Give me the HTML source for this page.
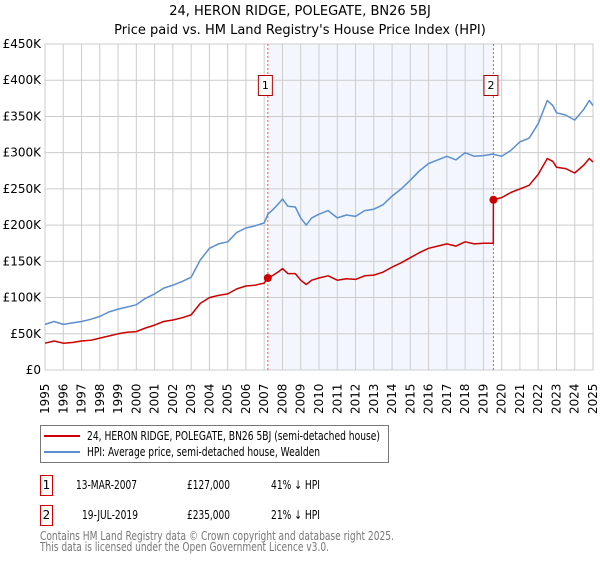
<!DOCTYPE html>
<html><head><meta charset="utf-8"><style>
body{margin:0;background:#fff;font-family:"DejaVu Sans","Liberation Sans",sans-serif;}
svg text{font-family:"DejaVu Sans","Liberation Sans",sans-serif;}
</style></head><body>
<svg id="c" width="600" height="560" xmlns="http://www.w3.org/2000/svg">
<text x="300" y="15" text-anchor="middle" font-size="13">24, HERON RIDGE, POLEGATE, BN26 5BJ</text>
<text x="300" y="34" text-anchor="middle" font-size="13">Price paid vs. HM Land Registry's House Price Index (HPI)</text>
<g id="plot"></g>
<g>
<rect x="40.5" y="425.5" width="348" height="37" fill="#fff" stroke="#777"/>
<line x1="44" y1="436" x2="80" y2="436" stroke="#cc0000" stroke-width="2"/>
<text x="87" y="440" font-size="12" textLength="293" lengthAdjust="spacingAndGlyphs">24, HERON RIDGE, POLEGATE, BN26 5BJ (semi-detached house)</text>
<line x1="44" y1="452" x2="80" y2="452" stroke="#5b8fd0" stroke-width="2"/>
<text x="87" y="456" font-size="12" textLength="233" lengthAdjust="spacingAndGlyphs">HPI: Average price, semi-detached house, Wealden</text>
</g>
<g font-size="12">
<rect x="40.5" y="475.5" width="12" height="20" fill="#fff" stroke="#cc0000"/>
<text x="46.5" y="489" text-anchor="middle">1</text>
<text x="76" y="489" textLength="61" lengthAdjust="spacingAndGlyphs">13-MAR-2007</text>
<text x="187" y="489" textLength="43" lengthAdjust="spacingAndGlyphs">£127,000</text>
<text x="271" y="489" textLength="49" lengthAdjust="spacingAndGlyphs">41% ↓ HPI</text>
<rect x="40.5" y="505.5" width="12" height="20" fill="#fff" stroke="#cc0000"/>
<text x="46.5" y="519" text-anchor="middle">2</text>
<text x="82" y="519" textLength="56" lengthAdjust="spacingAndGlyphs">19-JUL-2019</text>
<text x="187" y="519" textLength="43" lengthAdjust="spacingAndGlyphs">£235,000</text>
<text x="271" y="519" textLength="49" lengthAdjust="spacingAndGlyphs">21% ↓ HPI</text>
</g>
<text x="40" y="540" font-size="12" fill="#777" textLength="354" lengthAdjust="spacingAndGlyphs">Contains HM Land Registry data © Crown copyright and database right 2025.</text>
<text x="40" y="551" font-size="12" fill="#777" textLength="289" lengthAdjust="spacingAndGlyphs">This data is licensed under the Open Government Licence v3.0.</text>
</svg>
<script>
const hpiT=[1995,1995.5,1996,1996.5,1997,1997.5,1998,1998.5,1999,1999.5,2000,2000.5,2001,2001.5,2002,2002.5,2003,2003.5,2004,2004.5,2005,2005.5,2006,2006.5,2007,2007.2,2007.5,2007.8,2008,2008.3,2008.7,2009,2009.3,2009.6,2010,2010.5,2011,2011.5,2012,2012.5,2013,2013.5,2014,2014.5,2015,2015.5,2016,2016.5,2017,2017.5,2018,2018.5,2019,2019.5,2020,2020.5,2021,2021.5,2022,2022.5,2022.8,2023,2023.5,2024,2024.5,2024.8,2025];
const hpiV=[63,67,63,65,67,70,74,80,84,87,90,99,105,113,117,122,128,152,168,174,177,190,196,199,203,215,222,230,236,226,225,210,200,210,215,220,210,214,212,220,222,228,240,250,262,275,285,290,295,290,300,295,296,298,295,303,315,320,340,372,365,355,352,345,360,372,365];
const priceT=[1995,1995.5,1996,1996.5,1997,1997.5,1998,1998.5,1999,1999.5,2000,2000.5,2001,2001.5,2002,2002.5,2003,2003.5,2004,2004.5,2005,2005.5,2006,2006.5,2007,2007.2,2007.5,2007.8,2008,2008.3,2008.7,2009,2009.3,2009.6,2010,2010.5,2011,2011.5,2012,2012.5,2013,2013.5,2014,2014.5,2015,2015.5,2016,2016.5,2017,2017.5,2018,2018.5,2019,2019.54,2019.55,2020,2020.5,2021,2021.5,2022,2022.5,2022.8,2023,2023.5,2024,2024.5,2024.8,2025];
const priceV=[37,40,37,38,40,41,44,47,50,52,53,58,62,67,69,72,76,92,100,103,105,112,116,117,120,127,131,136,140,133,133,124,118,124,127,130,124,126,125,130,131,135,142,148,155,162,168,171,174,171,177,174,175,175,235,238,245,250,255,270,292,288,280,278,272,283,292,287];
const saleT=[2007.2,2019.55];
const saleV=[127,235];
const saleLabels=["1","2"];
const yTicks=[0,50,100,150,200,250,300,350,400,450];
const yTickLabels=["£0","£50K","£100K","£150K","£200K","£250K","£300K","£350K","£400K","£450K"];
const xYears=[1995,1996,1997,1998,1999,2000,2001,2002,2003,2004,2005,2006,2007,2008,2009,2010,2011,2012,2013,2014,2015,2016,2017,2018,2019,2020,2021,2022,2023,2024,2025];

const L=45,R=593,T=44,B=370;
const xs=t=>L+(t-1995)/30*(R-L);
const ys=v=>B-v/450*(B-T);
const NS="http://www.w3.org/2000/svg";
const g=document.getElementById('plot');
function mk(tag,attrs,parent){const e=document.createElementNS(NS,tag);for(const k in attrs)e.setAttribute(k,attrs[k]);(parent||g).appendChild(e);return e;}

const shade=mk('rect',{x:xs(saleT[0]),y:T,width:xs(saleT[1])-xs(saleT[0]),height:B-T,fill:'#eef3fc',opacity:0.7});



xYears.forEach(y=>{
  const l=mk('line',{x1:xs(y),x2:xs(y),y1:T,y2:B,stroke:'#cccccc','stroke-width':1});
  
  
  const s=String(y);
  const px=(xs(y)+4).toFixed(1);
  const xsList=[],ysList=[];
  for(let k=0;k<s.length;k++){xsList.push(px);ysList.push((B+44-k*7.6).toFixed(1));}
  const tx=mk('text',{x:xsList.join(' '),y:ysList.join(' '),rotate:'-90','font-size':'12'});
  tx.textContent=s;
  
  
});
yTicks.forEach((v,i)=>{
  const l=mk('line',{x1:L,x2:R,y1:ys(v),y2:ys(v),stroke:'#cccccc','stroke-width':1});
  
  
  const tx=mk('text',{x:41,y:ys(v)+4,'text-anchor':'end','font-size':'12'});
  tx.textContent=yTickLabels[i];
  
  
});
const frame=mk('rect',{x:L,y:T,width:R-L,height:B-T,fill:'none',stroke:'#cccccc'});



saleT.forEach((t,i)=>{
  const l=mk('line',{x1:xs(t),x2:xs(t),y1:T,y2:B,stroke:'#ee5555','stroke-width':1,'stroke-dasharray':'2,2'});
  
  
});

function path(T_,V,color,name){
  const d=T_.map((t,i)=>(i?'L':'M')+xs(t).toFixed(1)+','+ys(V[i]).toFixed(1)).join('');
  const p=mk('path',{d:d,fill:'none',stroke:color,'stroke-width':1.5,'stroke-linejoin':'round'});
  
  
}
path(hpiT,hpiV,'#5b8fd0','hpi-line');
path(priceT,priceV,'#cc0000','price-paid-line');

saleT.forEach((t,i)=>{
  const c=mk('circle',{cx:xs(t),cy:ys(saleV[i]),r:4,fill:'#cc0000'});
  
  
  const bx=mk('rect',{x:xs(t)-9.5,y:75.5,width:14,height:20,fill:'#fff',stroke:'#aa0000'});
  
  
  const tx=mk('text',{x:xs(t)-2.5,y:89,'text-anchor':'middle','font-size':'11'});
  tx.textContent=saleLabels[i];
  
  
});
</script>
</body></html>
